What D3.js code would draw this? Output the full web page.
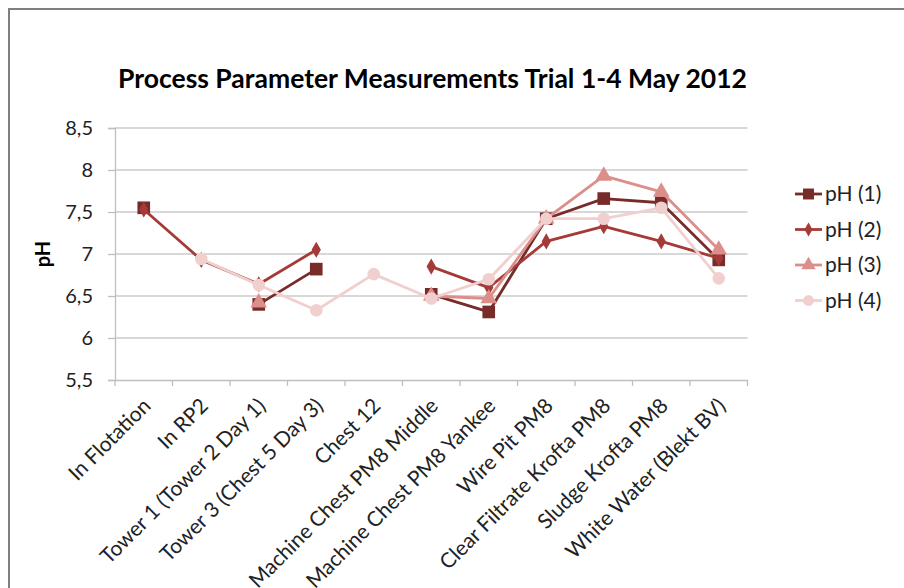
<!DOCTYPE html>
<html>
<head>
<meta charset="utf-8">
<script src="https://cdn.jsdelivr.net/npm/d3@7"></script>
<style>
  html, body { margin: 0; padding: 0; background: #fff; }
  svg { display: block; font-family: Lato, "Open Sans", sans-serif; }
</style>
</head>
<body>
<svg id="chart" width="904" height="588"></svg>
<script>
// Sampling locations along the process
const categories = [
  "In Flotation", "In RP2", "Tower 1 (Tower 2 Day 1)", "Tower 3 (Chest 5 Day 3)",
  "Chest 12", "Machine Chest PM8 Middle", "Machine Chest PM8 Yankee", "Wire Pit PM8",
  "Clear Filtrate Krofta PM8", "Sludge Krofta PM8", "White Water (Blekt BV)"
];

// pH readings per trial day (null = not measured)
const ph1 = [7.55, null, 6.40, 6.82, null, 6.52, 6.31, 7.42, 7.66, 7.61, 6.93];
const ph2 = [7.53, 6.93, 6.64, 7.05, null, 6.85, 6.60, 7.15, 7.33, 7.15, 6.95];
const ph3 = [null, null, 6.42, null, null, 6.50, 6.47, 7.42, 7.93, 7.74, 7.05];
const ph4 = [null, 6.94, 6.63, 6.33, 6.76, 6.47, 6.70, 7.42, 7.42, 7.55, 6.71];

const seriesNames = ["pH (1)", "pH (2)", "pH (3)", "pH (4)"];
const seriesColors = ["#772c2a", "#a53b38", "#dc8e8a", "#f1cfce"];
const seriesShapes = [d3.symbolSquare, d3.symbolDiamond, d3.symbolTriangle, d3.symbolCircle];
const seriesSizes = [160, 75, 120, 125];

const yTicks = [5.5, 6, 6.5, 7, 7.5, 8, 8.5];
const yDomain = [5.5, 8.5];

const series = [ph1, ph2, ph3, ph4].map((values, i) => ({
  name: seriesNames[i], color: seriesColors[i], shape: seriesShapes[i], size: seriesSizes[i], values
}));

const svg = d3.select("#chart");
const plot = { left: 115, right: 747.5, top: 128, bottom: 380 };

// Outer chart frame (runs past the right and bottom edges)
svg.append("path")
  .attr("d", "M9,600 L9,9 L904,9")
  .attr("fill", "none")
  .attr("stroke", "#7f7f7f")
  .attr("stroke-width", 2);

const x = d3.scaleBand().domain(categories).range([plot.left, plot.right]);
const y = d3.scaleLinear().domain(yDomain).range([plot.bottom, plot.top]);

// Title
svg.append("text")
  .attr("x", 432.5).attr("y", 88)
  .attr("text-anchor", "middle")
  .attr("font-weight", "bold")
  .attr("font-size", 26.5)
  .attr("fill", "#000")
  .text("Process Parameter Measurements Trial 1-4 May 2012");

// Horizontal gridlines
svg.append("g").selectAll("line")
  .data(yTicks.slice(1))
  .join("line")
  .attr("x1", plot.left).attr("x2", plot.right)
  .attr("y1", d => y(d)).attr("y2", d => y(d))
  .attr("stroke", "#cbcbcb").attr("stroke-width", 1.3);

// Y axis
const yAxis = svg.append("g")
  .attr("transform", `translate(${plot.left},0)`)
  .call(d3.axisLeft(y).tickValues(yTicks).tickSize(7).tickPadding(15)
    .tickFormat(d => String(d).replace(".", ",")));
yAxis.select(".domain").attr("stroke", "#bfbfbf").attr("stroke-width", 1.3);
yAxis.selectAll(".tick line").attr("stroke", "#bfbfbf").attr("stroke-width", 1.3);
yAxis.selectAll(".tick text").attr("font-size", 20).attr("fill", "#222")
  .attr("font-family", "Lato, sans-serif");

// Y axis title
svg.append("text")
  .attr("transform", `translate(50,${(plot.top + plot.bottom) / 2}) rotate(-90)`)
  .attr("text-anchor", "middle")
  .attr("font-weight", "bold")
  .attr("font-size", 20)
  .text("pH");

// X axis
const xAxis = svg.append("g")
  .attr("transform", `translate(0,${plot.bottom})`)
  .call(d3.axisBottom(x).tickSize(0).tickFormat(""));
xAxis.select(".domain").attr("stroke", "#bfbfbf").attr("stroke-width", 1.3);

// Category boundary tick marks
const bounds = categories.map(c => x(c)).concat([plot.right]);
svg.append("g").selectAll("line")
  .data(bounds)
  .join("line")
  .attr("x1", d => d).attr("x2", d => d)
  .attr("y1", plot.bottom).attr("y2", plot.bottom + 6)
  .attr("stroke", "#bfbfbf").attr("stroke-width", 1.3);

// Rotated category labels
svg.append("g").selectAll("text")
  .data(categories)
  .join("text")
  .attr("transform", d => `translate(${x(d) + x.bandwidth() / 2 + 3},${plot.bottom + 22}) rotate(-45)`)
  .attr("text-anchor", "end")
  .attr("dy", "0.35em")
  .attr("font-size", 21)
  .attr("fill", "#222")
  .text(d => d);

// Lines and markers
const cx = i => x(categories[i]) + x.bandwidth() / 2;
const line = d3.line()
  .defined(d => d != null)
  .x((d, i) => cx(i))
  .y(d => y(d));

const sg = svg.append("g").selectAll("g")
  .data(series)
  .join("g");

sg.append("path")
  .attr("d", s => line(s.values))
  .attr("fill", "none")
  .attr("stroke", s => s.color)
  .attr("stroke-width", 2.8)
  .attr("stroke-linejoin", "round");

sg.each(function (s) {
  const sym = d3.symbol().type(s.shape).size(s.size);
  d3.select(this).selectAll("path.mark")
    .data(s.values.map((v, i) => ({ v, i })).filter(d => d.v != null))
    .join("path")
    .attr("class", "mark")
    .attr("transform", d => `translate(${cx(d.i)},${y(d.v)})`)
    .attr("d", sym())
    .attr("fill", s.color);
});

// Legend
const legend = svg.append("g").selectAll("g")
  .data(series)
  .join("g")
  .attr("transform", (s, i) => `translate(795,${194 + i * 35.5})`);

legend.append("line")
  .attr("x1", 0).attr("x2", 27)
  .attr("stroke", s => s.color).attr("stroke-width", 2.8);

legend.append("path")
  .attr("transform", "translate(13.5,0)")
  .attr("d", s => d3.symbol().type(s.shape).size(s.size * 0.75)())
  .attr("fill", s => s.color);

legend.append("text")
  .attr("x", 30).attr("dy", "0.35em")
  .attr("font-size", 21)
  .attr("fill", "#222")
  .text(s => s.name);
</script>
</body>
</html>
